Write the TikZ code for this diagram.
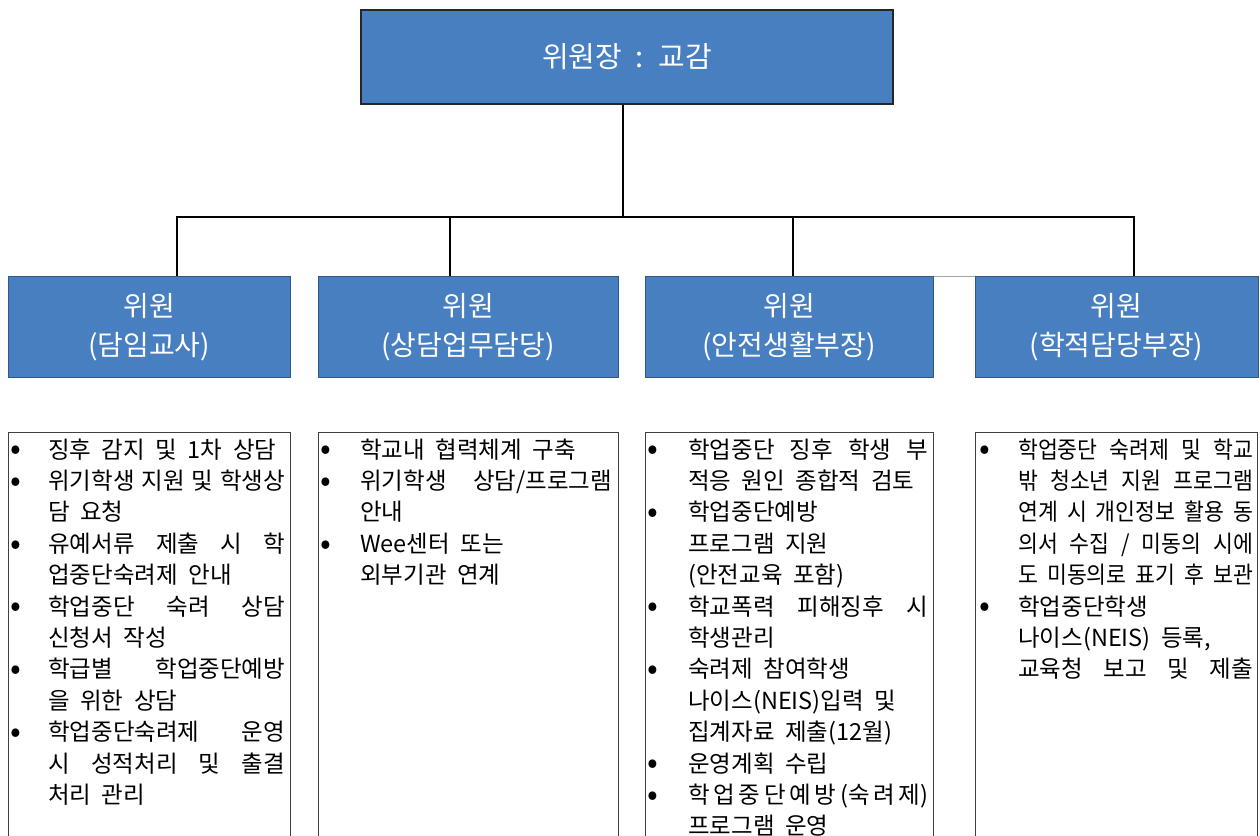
\documentclass[tikz,border=0pt]{standalone}
\usepackage{fontspec}
\usepackage{graphicx}
\setmainfont{Noto Sans CJK KR}[WordSpace={2.0,1,4}]
\newfontfamily\narrowkr{Noto Sans CJK KR}[FakeStretch=0.92,WordSpace={1.9,1,4}]
\definecolor{boxblue}{RGB}{72,127,193}
\definecolor{boxedge}{RGB}{52,88,132}
\newlength\kbw
\newlength\ktw
\newcommand\bl{\makebox[\kbw][l]{\makebox[10pt][c]{\raisebox{-0.08em}{\scalebox{1.35}{•}}}}}
\newcommand\ind{\hspace*{\kbw}}
\newcommand\jl[1]{\makebox[\ktw][s]{#1}}
\tikzset{
  headbox/.style={draw=black!85, line width=1.2pt, fill=boxblue, text=white, inner sep=0pt,
    minimum width=532pt, minimum height=94pt, font=\fontsize{29}{34}\selectfont},
  membox/.style={draw=boxedge, line width=1pt, fill=boxblue, text=white, align=center, inner sep=0pt,
    minimum height=101pt, font=\fontsize{28}{39}\selectfont},
  dutybox/.style={draw=black!75, line width=1pt, fill=white, anchor=north west, inner sep=0pt,
    minimum height=420pt},
  dutytext/.style={anchor=base west, inner sep=0pt, align=left, text=black,
    font=\fontsize{23.5}{31.4}\selectfont},
  link/.style={draw=black, line width=2.4pt},
}
\begin{document}
\begin{tikzpicture}[x=1pt,y=-1pt]
\useasboundingbox (0,0) rectangle (1260,835);
\clip (0,0) rectangle (1260,835);
\fill[white] (0,0) rectangle (1260,835);

% chair
\node[headbox] (top) at (627,57) {위원장 : 교감};

% members
\node[membox, minimum width=282pt] (m1) at (149,327) {위원\\(담임교사)};
\node[membox, minimum width=300pt] (m2) at (468,327) {위원\\(상담업무담당)};
\node[membox, minimum width=288pt] (m3) at (789,327) {위원\\(안전생활부장)};
\node[membox, minimum width=283pt] (m4) at (1116.5,327) {위원\\(학적담당부장)};
\draw[black!35, line width=1pt] (m3.north east) -- (m4.north west);

% connectors
\coordinate (bus) at (623,217);
\coordinate (b1) at (177,217);
\coordinate (b2) at (450,217);
\coordinate (b3) at (793,217);
\coordinate (b4) at (1134,217);
\draw[link] (bus |- top.south) -- (bus);
\draw[link] (b1 |- m1.north) -- (b1) -- (b4) -- (b4 |- m4.north);
\draw[link] (b2) -- (b2 |- m2.north);
\draw[link] (b3) -- (b3 |- m3.north);

% duty boxes
\node[dutybox, minimum width=282pt] (d1) at (8,432) {};
\node[dutybox, minimum width=300pt] (d2) at (318,432) {};
\node[dutybox, minimum width=288pt] (d3) at (645,432) {};
\node[dutybox, minimum width=282pt] (d4) at (975,432) {};

% column 1 (anchor = baseline of last line; first baseline at 458)
\setlength\kbw{37pt}\setlength\ktw{237pt}
\node[dutytext] (t1) at (11,803.4) {%
\bl 징후 감지 및 1차 상담\\
\bl \jl{위기학생 지원 및 학생상}\\
\ind 담 요청\\
\bl \jl{유예서류 제출 시 학}\\
\ind 업중단숙려제 안내\\
\bl \jl{학업중단 숙려 상담}\\
\ind 신청서 작성\\
\bl \jl{학급별 학업중단예방}\\
\ind 을 위한 상담\\
\bl \jl{학업중단숙려제 운영}\\
\ind \jl{시 성적처리 및 출결}\\
\ind 처리 관리};

% column 2
\setlength\kbw{39pt}\setlength\ktw{252pt}
\node[dutytext] (t2) at (321,583.6) {%
\bl 학교내 협력체계 구축\\
\bl \jl{위기학생 상담/프로그램}\\
\ind 안내\\
\bl Wee센터 또는\\
\ind 외부기관 연계};

% column 3
\setlength\kbw{40pt}\setlength\ktw{240pt}
\node[dutytext] (t3) at (648,834.8) {%
\bl \jl{학업중단 징후 학생 부}\\
\ind 적응 원인 종합적 검토\\
\bl 학업중단예방\\
\ind 프로그램 지원\\
\ind (안전교육 포함)\\
\bl \jl{학교폭력 피해징후 시}\\
\ind 학생관리\\
\bl 숙려제 참여학생\\
\ind 나이스(NEIS)입력 및\\
\ind 집계자료 제출(12월)\\
\bl 운영계획 수립\\
\bl \jl{학\hfil 업\hfil 중\hfil 단\hfil 예\hfil 방\hfil (숙\hfil 려\hfil 제)}\\
\ind 프로그램 운영};

% column 4
\setlength\kbw{38pt}\setlength\ktw{235pt}
\node[dutytext] (t4) at (980,677.8) {%
\bl \jl{\narrowkr 학업중단 숙려제 및 학교}\\
\ind \jl{\narrowkr 밖 청소년 지원 프로그램}\\
\ind \jl{\narrowkr 연계 시 개인정보 활용 동}\\
\ind \jl{\narrowkr 의서 수집 / 미동의 시에}\\
\ind \jl{\narrowkr 도 미동의로 표기 후 보관}\\
\bl 학업중단학생\\
\ind 나이스(NEIS) 등록,\\
\ind \jl{교육청 보고 및 제출}};
\end{tikzpicture}
\end{document}
